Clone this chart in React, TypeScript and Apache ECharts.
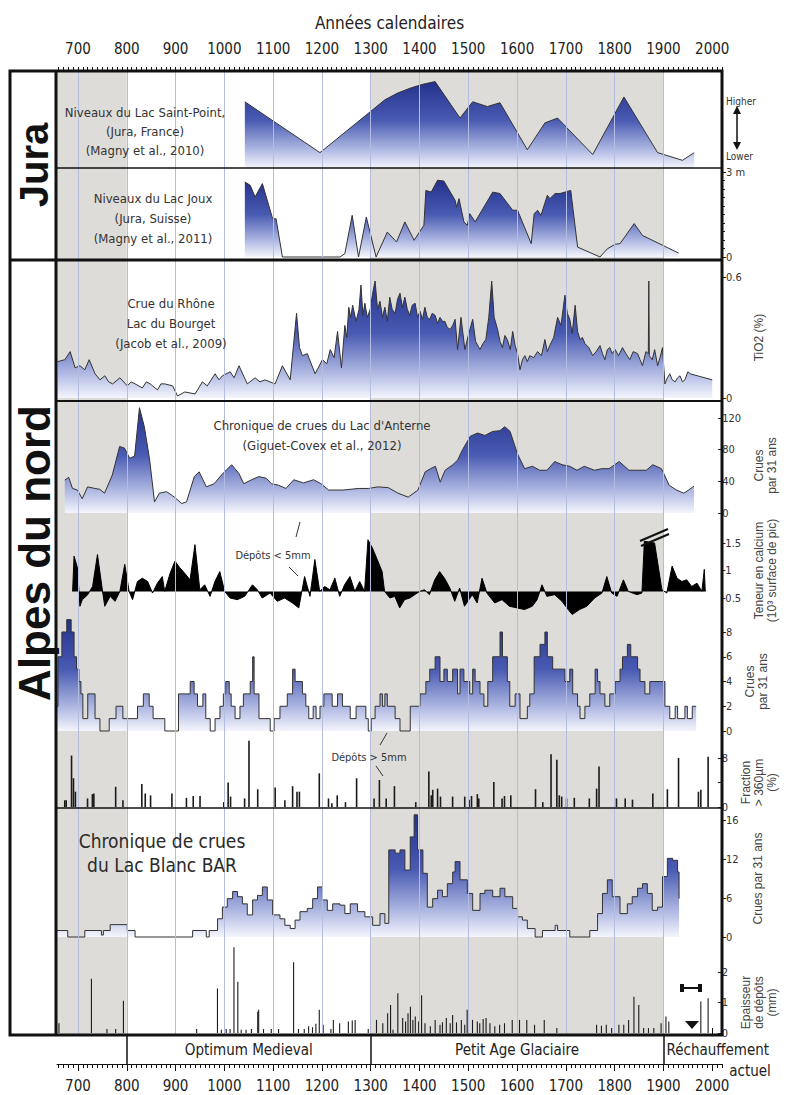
import React, { useEffect, useRef } from "react";
import * as echarts from "echarts";

// ---------- axes / periods ----------
const X_MIN = 657;
const X_MAX = 2020;
const centuryTicks = [700, 800, 900, 1000, 1100, 1200, 1300, 1400, 1500, 1600, 1700, 1800, 1900, 2000];
const centuryLines = [700, 800, 900, 1000, 1100, 1200, 1300, 1400, 1500, 1600, 1700, 1800, 1900];
const greyBands = [[657, 800], [1300, 1900]];
const periodNames = ["Optimum Medieval", "Petit Age Glaciaire", "Réchauffement"];
const periodStarts = [800, 1300, 1900];
const periodEnds = [1300, 1900, 2020];
const jouxTickLabels = ["0", "3 m"];
const rhoneTickLabels = ["0", "0.6"];
const calciumTickLabels = ["0.5", "1", "1.5"];
const fractionTickLabels = ["0", "", "8"];
const blancTickLabels = ["0", "6", "12", "16"];

// ---------- series (year, value) ----------
const saintPoint = [[1042, 6.9], [1196, 1.6], [1329, 7.1], [1355, 7.8], [1380, 8.3], [1405, 8.7], [1432, 9.0], [1483, 5.2], [1509, 6.9], [1539, 6.4], [1565, 6.8], [1621, 1.9], [1657, 4.7], [1683, 5.2], [1755, 1.4], [1819, 7.4], [1888, 1.6], [1939, 0.8], [1963, 1.6]];

const joux = [[1042, 2.65], [1053, 2.53], [1063, 2.12], [1078, 2.59], [1099, 1.35], [1106, 1.35], [1119, 0], [1237, 0], [1247, 0.12], [1262, 1.47], [1275, 0], [1291, 1.41], [1311, 0], [1334, 0.88], [1353, 0.53], [1370, 1.24], [1389, 0.59], [1409, 1.12], [1413, 2.35], [1424, 2.29], [1437, 2.71], [1450, 2.68], [1473, 2.0], [1476, 1.76], [1481, 2.06], [1491, 1.24], [1498, 1.12], [1503, 1.53], [1514, 1.24], [1550, 2.29], [1565, 2.24], [1591, 1.65], [1601, 1.65], [1629, 0.47], [1635, 1.53], [1642, 1.65], [1649, 1.47], [1662, 2.18], [1667, 2.06], [1678, 2.24], [1688, 2.24], [1710, 2.35], [1724, 0.35], [1770, 0], [1785, 0.29], [1801, 0.45], [1811, 0.47], [1840, 1.18], [1857, 0.76], [1931, 0.14]];

const rhoneTiO2 = [[658, 0.18], [673, 0.19], [684, 0.23], [694, 0.15], [704, 0.16], [714, 0.14], [723, 0.19], [735, 0.12], [745, 0.09], [755, 0.11], [763, 0.08], [771, 0.07], [786, 0.10], [801, 0.06], [809, 0.08], [817, 0.07], [832, 0.05], [840, 0.08], [848, 0.07], [863, 0.04], [870, 0.07], [878, 0.07], [894, 0.06], [904, 0.01], [919, 0.03], [940, 0.02], [955, 0.08], [965, 0.06], [981, 0.12], [989, 0.09], [996, 0.11], [1012, 0.13], [1020, 0.10], [1030, 0.16], [1047, 0.07], [1063, 0.10], [1073, 0.08], [1083, 0.09], [1104, 0.07], [1119, 0.16], [1135, 0.09], [1148, 0.42], [1154, 0.25], [1160, 0.21], [1170, 0.22], [1186, 0.12], [1201, 0.19], [1210, 0.17], [1217, 0.24], [1225, 0.20], [1232, 0.33], [1240, 0.15], [1247, 0.36], [1251, 0.30], [1255, 0.45], [1259, 0.40], [1263, 0.46], [1270, 0.38], [1276, 0.44], [1280, 0.56], [1284, 0.41], [1288, 0.47], [1293, 0.40], [1299, 0.44], [1304, 0.52], [1309, 0.58], [1314, 0.44], [1319, 0.48], [1324, 0.40], [1329, 0.45], [1334, 0.38], [1339, 0.50], [1344, 0.44], [1350, 0.42], [1355, 0.49], [1360, 0.52], [1365, 0.45], [1370, 0.50], [1375, 0.44], [1380, 0.41], [1385, 0.46], [1391, 0.47], [1396, 0.40], [1401, 0.43], [1406, 0.39], [1411, 0.45], [1416, 0.40], [1421, 0.39], [1426, 0.42], [1432, 0.41], [1437, 0.37], [1442, 0.40], [1447, 0.38], [1452, 0.38], [1457, 0.35], [1463, 0.34], [1468, 0.36], [1473, 0.39], [1478, 0.24], [1485, 0.40], [1493, 0.24], [1500, 0.31], [1509, 0.39], [1515, 0.28], [1524, 0.24], [1530, 0.27], [1536, 0.29], [1542, 0.40], [1548, 0.58], [1553, 0.40], [1560, 0.34], [1565, 0.28], [1570, 0.25], [1575, 0.31], [1580, 0.29], [1586, 0.24], [1591, 0.33], [1596, 0.26], [1601, 0.22], [1606, 0.14], [1611, 0.19], [1616, 0.21], [1621, 0.18], [1626, 0.21], [1634, 0.20], [1642, 0.23], [1650, 0.21], [1657, 0.29], [1662, 0.23], [1667, 0.26], [1675, 0.30], [1683, 0.40], [1690, 0.36], [1698, 0.51], [1703, 0.42], [1708, 0.39], [1713, 0.32], [1719, 0.46], [1724, 0.33], [1729, 0.29], [1734, 0.30], [1739, 0.27], [1747, 0.25], [1755, 0.21], [1762, 0.23], [1770, 0.26], [1775, 0.22], [1780, 0.19], [1785, 0.24], [1790, 0.25], [1795, 0.22], [1801, 0.24], [1808, 0.21], [1816, 0.25], [1823, 0.22], [1831, 0.19], [1838, 0.23], [1847, 0.22], [1852, 0.19], [1857, 0.16], [1864, 0.23], [1869, 0.22], [1870, 0.58], [1871, 0.21], [1874, 0.20], [1877, 0.19], [1882, 0.24], [1888, 0.16], [1893, 0.20], [1898, 0.25], [1903, 0.07], [1908, 0.10], [1913, 0.12], [1918, 0.09], [1924, 0.08], [1929, 0.10], [1934, 0.11], [1939, 0.08], [1944, 0.09], [1950, 0.13], [1955, 0.12], [1970, 0.11], [2000, 0.09]];

const anterne = [[673, 41.6], [681, 45], [689, 31], [699, 29], [709, 18], [720, 33], [735, 31], [745, 30], [755, 25], [771, 48], [786, 84], [796, 82], [807, 69], [817, 72], [827, 133], [837, 109], [848, 67], [858, 14], [868, 25], [883, 27], [899, 20], [914, 12], [924, 14], [940, 46], [950, 52], [965, 33], [981, 37], [996, 48], [1017, 61], [1032, 50], [1042, 37], [1058, 42], [1073, 46], [1088, 44], [1099, 37], [1114, 35], [1129, 31], [1145, 42], [1165, 38], [1186, 42], [1201, 37], [1217, 29], [1247, 29], [1278, 31], [1299, 31], [1319, 33], [1340, 32], [1360, 25], [1381, 20], [1401, 29], [1416, 52], [1427, 56], [1437, 59], [1447, 39], [1457, 54], [1473, 61], [1483, 67], [1493, 80], [1509, 97], [1524, 101], [1539, 98], [1555, 103], [1570, 104], [1580, 109], [1591, 103], [1606, 75], [1621, 56], [1637, 59], [1652, 54], [1667, 54], [1683, 65], [1698, 61], [1714, 59], [1729, 54], [1744, 59], [1765, 54], [1780, 56], [1795, 56], [1816, 65], [1836, 54], [1857, 54], [1872, 54], [1885, 61], [1903, 56], [1919, 35], [1934, 29], [1949, 25], [1959, 29], [1970, 34]];

const calcium = [[689, 0.62], [692, 1.26], [699, 1.05], [704, 0.35], [709, 0.47], [720, 0.56], [730, 0.71], [740, 1.29], [750, 0.65], [755, 0.35], [766, 0.53], [776, 0.44], [786, 0.62], [796, 1.11], [805, 0.62], [812, 0.47], [822, 0.80], [832, 0.86], [843, 0.80], [853, 0.59], [863, 0.77], [873, 0.89], [878, 0.62], [889, 0.95], [899, 1.17], [909, 1.05], [919, 0.95], [930, 0.83], [940, 1.47], [950, 0.65], [960, 0.74], [971, 0.53], [981, 0.80], [991, 0.98], [1001, 0.62], [1012, 0.50], [1027, 0.47], [1042, 0.53], [1058, 0.74], [1068, 0.65], [1078, 0.50], [1094, 0.59], [1109, 0.44], [1124, 0.50], [1140, 0.41], [1153, 0.32], [1165, 0.89], [1176, 0.53], [1186, 1.20], [1196, 0.62], [1206, 0.71], [1217, 0.65], [1227, 0.86], [1237, 0.53], [1247, 0.74], [1258, 0.89], [1268, 0.62], [1278, 0.80], [1288, 0.62], [1295, 1.56], [1304, 1.41], [1314, 1.20], [1324, 0.98], [1329, 0.62], [1340, 0.50], [1350, 0.53], [1360, 0.32], [1370, 0.47], [1381, 0.50], [1391, 0.56], [1401, 0.62], [1411, 0.65], [1421, 0.56], [1432, 0.83], [1442, 0.98], [1452, 0.86], [1463, 0.68], [1473, 0.44], [1483, 0.68], [1493, 0.35], [1509, 0.56], [1519, 0.41], [1529, 0.86], [1539, 0.59], [1555, 0.41], [1570, 0.47], [1585, 0.35], [1601, 0.32], [1616, 0.29], [1632, 0.35], [1642, 0.47], [1652, 0.74], [1662, 0.53], [1678, 0.56], [1693, 0.44], [1703, 0.32], [1714, 0.20], [1729, 0.29], [1744, 0.35], [1760, 0.50], [1775, 0.59], [1785, 0.89], [1795, 0.59], [1806, 0.53], [1819, 0.83], [1829, 0.62], [1847, 0.56], [1857, 0.59], [1862, 1.53], [1883, 1.50], [1898, 0.65], [1908, 0.59], [1919, 1.08], [1929, 0.86], [1939, 0.80], [1949, 0.83], [1959, 0.71], [1970, 0.77], [1980, 0.62], [1985, 1.02], [1987, 0.62]];
const calciumBaseline = 0.62;

const anterneEvents = [[657, 2], [659, 6], [667, 8], [677, 9], [686, 8], [692, 6], [697, 5], [702, 4], [706, 3], [710, 1], [720, 3], [735, 1], [745, 0], [764, 1], [778, 2], [792, 1], [822, 2], [834, 3], [846, 2], [854, 1], [878, 0], [906, 3], [930, 4], [938, 3], [945, 2], [956, 3], [962, 1], [971, 0], [981, 1], [991, 2], [998, 3], [1003, 4], [1010, 3], [1014, 2], [1022, 1], [1032, 2], [1039, 3], [1053, 4], [1058, 6], [1061, 3], [1071, 1], [1094, 0], [1102, 1], [1114, 2], [1129, 3], [1140, 5], [1145, 4], [1160, 3], [1167, 2], [1173, 1], [1182, 2], [1188, 1], [1196, 2], [1204, 3], [1221, 2], [1232, 3], [1242, 2], [1258, 1], [1270, 2], [1290, 1], [1295, 0], [1301, 1], [1309, 2], [1319, 3], [1324, 2], [1329, 3], [1334, 2], [1350, 1], [1360, 0], [1381, 2], [1401, 3], [1413, 4], [1421, 5], [1432, 6], [1442, 4], [1450, 5], [1457, 4], [1468, 5], [1478, 3], [1483, 5], [1491, 4], [1503, 3], [1509, 5], [1514, 4], [1524, 3], [1532, 2], [1540, 4], [1550, 6], [1565, 8], [1570, 6], [1580, 4], [1585, 2], [1596, 3], [1606, 1], [1621, 2], [1626, 3], [1635, 6], [1647, 7], [1657, 8], [1662, 6], [1673, 5], [1698, 4], [1708, 5], [1714, 3], [1724, 2], [1729, 1], [1739, 2], [1749, 3], [1760, 5], [1765, 4], [1770, 3], [1780, 2], [1790, 3], [1801, 4], [1811, 5], [1816, 6], [1826, 7], [1833, 6], [1847, 5], [1852, 4], [1862, 3], [1872, 4], [1903, 2], [1913, 1], [1924, 2], [1929, 1], [1944, 2], [1949, 1], [1959, 2], [1967, 2]];

const fraction = [[673, 1.1], [676, 1.1], [687, 8.4], [691, 4.7], [695, 2.5], [720, 1.4], [730, 2.1], [733, 2.2], [778, 3.3], [793, 1.1], [832, 3.75], [839, 2.2], [850, 1.9], [894, 2.2], [924, 1.5], [938, 1.8], [952, 1.8], [1001, 0.8], [1010, 4.0], [1015, 1.7], [1044, 1.4], [1053, 10.8], [1071, 2.9], [1107, 3.2], [1127, 1.1], [1143, 3.4], [1152, 2.5], [1157, 2.5], [1198, 5.5], [1217, 1.4], [1224, 0.6], [1235, 1.9], [1252, 0.8], [1275, 4.7], [1311, 1.4], [1322, 4.4], [1336, 1.4], [1353, 3.4], [1397, 0.8], [1424, 5.8], [1429, 1.9], [1432, 2.8], [1442, 3.0], [1448, 1.7], [1473, 1.7], [1498, 1.7], [1507, 1.2], [1512, 1.8], [1524, 2.1], [1527, 1.4], [1558, 4.1], [1575, 1.4], [1580, 1.8], [1593, 1.9], [1644, 2.9], [1659, 0.8], [1676, 8.6], [1688, 7.7], [1693, 1.9], [1698, 1.7], [1708, 1.4], [1724, 1.5], [1755, 1.4], [1770, 3.0], [1775, 6.6], [1811, 1.4], [1829, 1.4], [1844, 1.2], [1886, 2.2], [1916, 2.9], [1939, 8.0], [1980, 2.5], [1985, 2.8], [2000, 8.2]];

const lacBlanc = [[657, 1.0], [679, 0], [714, 1.0], [748, 0.3], [752, 1.0], [766, 1.9], [801, 1.0], [817, 0], [935, 1.0], [963, 0], [969, 1.0], [986, 2.8], [996, 4.6], [1006, 5.9], [1017, 7.0], [1027, 6.2], [1037, 5.1], [1047, 3.4], [1058, 5.7], [1068, 6.4], [1078, 7.7], [1088, 5.7], [1099, 3.4], [1114, 2.8], [1124, 1.8], [1135, 1.3], [1145, 2.6], [1155, 3.9], [1170, 4.4], [1181, 5.9], [1191, 7.7], [1201, 5.7], [1211, 4.1], [1222, 5.1], [1237, 4.9], [1247, 3.6], [1258, 5.1], [1273, 3.9], [1288, 3.1], [1304, 1.8], [1319, 3.6], [1329, 2.1], [1337, 13.4], [1350, 12.9], [1360, 13.4], [1370, 10.3], [1381, 15.4], [1389, 18.8], [1396, 13.4], [1407, 9.8], [1416, 4.6], [1427, 5.9], [1437, 7.2], [1447, 6.2], [1457, 8.2], [1468, 10.0], [1473, 11.6], [1483, 8.8], [1498, 6.7], [1509, 4.1], [1524, 6.7], [1534, 7.2], [1550, 6.2], [1565, 7.5], [1575, 6.2], [1591, 4.4], [1601, 3.1], [1611, 2.6], [1621, 1.3], [1637, 0], [1652, 1.0], [1678, 1.8], [1683, 1.0], [1708, 0], [1749, 1.0], [1765, 3.6], [1775, 6.7], [1785, 8.8], [1795, 6.2], [1811, 3.6], [1826, 5.1], [1836, 6.2], [1847, 7.5], [1857, 8.2], [1867, 6.7], [1877, 4.1], [1888, 4.6], [1898, 9.3], [1908, 12.1], [1919, 11.8], [1929, 10.0], [1932, 5.9]];

const depositThickness = [[661, 0.32], [728, 1.78], [760, 0.13], [778, 0.13], [794, 1.06], [945, 0.13], [988, 1.46], [996, 0.11], [1006, 0.13], [1014, 0.13], [1022, 2.81], [1030, 1.68], [1037, 0.11], [1047, 0.11], [1058, 0.13], [1071, 0.70], [1073, 0.76], [1083, 0.13], [1099, 0.13], [1114, 0.13], [1145, 2.32], [1155, 0.13], [1167, 0.13], [1176, 0.22], [1184, 0.19], [1191, 0.30], [1198, 0.76], [1206, 0.27], [1222, 0.13], [1227, 0.43], [1240, 0.32], [1258, 0.38], [1266, 0.41], [1272, 0.43], [1299, 0.13], [1316, 0.43], [1329, 0.32], [1339, 0.65], [1345, 0.92], [1350, 0.11], [1360, 1.30], [1370, 0.49], [1376, 0.38], [1381, 0.65], [1386, 0.86], [1391, 0.43], [1396, 0.54], [1403, 0.38], [1409, 1.24], [1416, 0.32], [1427, 0.22], [1437, 0.43], [1447, 0.27], [1452, 0.35], [1460, 0.49], [1468, 0.32], [1473, 0.59], [1481, 0.35], [1491, 0.43], [1498, 0.27], [1503, 0.76], [1514, 0.43], [1524, 0.38], [1529, 0.32], [1536, 0.46], [1542, 0.49], [1550, 0.32], [1560, 0.22], [1570, 0.27], [1580, 0.32], [1596, 0.43], [1611, 0.43], [1626, 0.43], [1642, 0.27], [1662, 0.43], [1688, 0.16], [1770, 0.27], [1780, 0.24], [1790, 0.27], [1801, 0.16], [1816, 0.27], [1826, 0.27], [1836, 0.43], [1847, 1.19], [1857, 0.92], [1867, 0.16], [1877, 0.16], [1888, 0.16], [1903, 0.32], [1908, 0.43], [1913, 0.54], [1919, 0.38], [1985, 1.03], [2000, 1.14]];

// ---------- styling ----------
const NARROW = "'DejaVu Sans Condensed','Liberation Sans',sans-serif";
const REG = "'Liberation Sans','DejaVu Sans',sans-serif";
const INK = "#222";

const layout = [
  { top: 71, height: 964 }, // 0 background + top axis
  { top: 72, height: 96 }, // 1 Saint-Point
  { top: 172, height: 85 }, // 2 Joux
  { top: 277, height: 121 }, // 3 Rhone
  { top: 418, height: 95 }, // 4 Anterne
  { top: 543, height: 55 }, // 5 calcium
  { top: 632, height: 99 }, // 6 Anterne events
  { top: 758, height: 49 }, // 7 fraction
  { top: 820, height: 117 }, // 8 Lac Blanc
  { top: 972, height: 61 }, // 9 deposit thickness
  { top: 1035, height: 29 }, // 10 periods + bottom axis
];

function blueFill() {
  return new echarts.graphic.LinearGradient(0, 0, 0, 1, [
    { offset: 0, color: "#24318c" },
    { offset: 0.45, color: "#4a5bb3" },
    { offset: 0.8, color: "#b3bce4" },
    { offset: 1, color: "#f4f5fc" },
  ]);
}

function rightAxis(gridIndex: number, min: number, max: number, interval: number, labels: string[] | null, name: string, nameGap = 20, extra: any = {}) {
  return {
    gridIndex, type: "value", position: "right", min, max, interval,
    axisLine: { show: false },
    axisTick: { show: true, length: 4, lineStyle: { color: INK, width: 1 } },
    splitLine: { show: false },
    axisLabel: {
      fontSize: 11, color: "#333", margin: 4, fontFamily: NARROW,
      formatter: labels ? (v: number, i: number) => (labels[i] ?? "") : (v: number) => String(v),
    },
    name, nameLocation: "middle", nameRotate: 90, nameGap,
    nameTextStyle: { fontSize: 12, color: "#444", fontFamily: REG, lineHeight: 13 },
    ...extra,
  };
}

function areaLine(idx: number, data: number[][], extra: any = {}) {
  return {
    type: "line", xAxisIndex: idx, yAxisIndex: idx, data, symbol: "none", clip: false,
    lineStyle: { color: "#333", width: 1 },
    areaStyle: { color: blueFill(), opacity: 1 },
    ...extra,
  };
}

function buildOption(): any {
  const decadeTicks: number[] = [];
  for (let y = 660; y <= 2020; y += 10) decadeTicks.push(y);

  const xAxes: any[] = layout.map((_, i) => ({ gridIndex: i, type: "value", min: X_MIN, max: X_MAX, show: false }));
  const mainAxisStyle = {
    show: true, type: "value", min: X_MIN, max: X_MAX,
    axisLine: { show: true, lineStyle: { color: "#111", width: 1 } },
    axisTick: { show: true, customValues: centuryTicks, length: 7, lineStyle: { color: "#111" } },
    axisLabel: { customValues: centuryTicks, fontSize: 15, color: INK, fontFamily: NARROW, formatter: (v: number) => String(v) },
    splitLine: { show: false },
  };
  xAxes[0] = {
    ...mainAxisStyle, gridIndex: 0, position: "top",
    axisLabel: { ...mainAxisStyle.axisLabel, margin: 15 },
    name: "Années calendaires", nameLocation: "middle", nameGap: 40,
    nameTextStyle: { fontSize: 17, color: INK, fontFamily: NARROW },
  };
  xAxes[10] = { ...mainAxisStyle, gridIndex: 10, position: "bottom", axisLabel: { ...mainAxisStyle.axisLabel, margin: 14 } };
  const minorAxis = (gridIndex: number, position: string) => ({
    gridIndex, position, type: "value", min: X_MIN, max: X_MAX,
    axisLine: { show: false }, axisLabel: { show: false }, splitLine: { show: false },
    axisTick: { show: true, customValues: decadeTicks, length: 4, lineStyle: { color: "#111" } },
  });
  xAxes.push(minorAxis(0, "top"), minorAxis(10, "bottom"));

  const yAxes: any[] = [
    { gridIndex: 0, min: 0, max: 1, show: false },
    { gridIndex: 1, min: 0, max: 10, show: false },
    rightAxis(2, 0, 3, 3, jouxTickLabels, "", 20, { minorTick: { show: true, splitNumber: 10, length: 3, lineStyle: { color: INK } } }),
    rightAxis(3, 0, 0.6, 0.6, rhoneTickLabels, "TiO2 (%)", 22),
    rightAxis(4, 0, 120, 40, null, "Crues\npar 31 ans", 22),
    rightAxis(5, 0.5, 1.5, 0.5, calciumTickLabels, "Teneur en calcium\n(10³ surface de pic)", 22),
    rightAxis(6, 0, 8, 2, null, "Crues\npar 31 ans", 20),
    rightAxis(7, 0, 8, 4, fractionTickLabels, "Fraction\n> 360µm\n(%)", 20),
    rightAxis(8, 0, 18, 6, blancTickLabels, "Crues par 31 ans", 29),
    rightAxis(9, 0, 2, 1, null, "Epaisseur\nde dépôts\n(mm)", 20),
    { gridIndex: 10, min: 0, max: 1, show: false },
  ];

  const series: any[] = [
    {
      type: "line", xAxisIndex: 0, yAxisIndex: 0, data: [[X_MIN, -1]], symbol: "none", silent: true, z: 0,
      lineStyle: { opacity: 0 },
      markArea: { silent: true, itemStyle: { color: "#dedcd9" }, data: greyBands.map(([a, b]) => [{ xAxis: a }, { xAxis: b }]) },
      markLine: {
        silent: true, symbol: ["none", "none"], label: { show: false },
        lineStyle: { color: "#b3bde0", width: 1, type: "solid" },
        data: centuryLines.map((x) => ({ xAxis: x })),
      },
    },
    {
      type: "line", xAxisIndex: 10, yAxisIndex: 10, data: [[X_MIN, -1]], symbol: "none", silent: true,
      lineStyle: { opacity: 0 },
      markArea: {
        silent: true, itemStyle: { color: "rgba(0,0,0,0)" },
        label: { show: true, position: "inside", fontSize: 15, color: INK, fontFamily: NARROW },
        data: periodNames.map((n, i) => [
          { xAxis: periodStarts[i], name: n, label: i === 2 ? { position: "insideLeft", distance: 3 } : undefined },
          { xAxis: periodEnds[i] },
        ]),
      },
      markLine: {
        silent: true, symbol: ["none", "none"], label: { show: false },
        lineStyle: { color: "#111", width: 1.5, type: "solid" },
        data: periodStarts.map((x) => ({ xAxis: x })),
      },
    },
    areaLine(1, saintPoint),
    areaLine(2, joux),
    areaLine(3, rhoneTiO2),
    areaLine(4, anterne),
    {
      type: "line", xAxisIndex: 5, yAxisIndex: 5, data: calcium, symbol: "none", clip: false,
      lineStyle: { color: "#000", width: 1 },
      areaStyle: { color: "#000", opacity: 1, origin: calciumBaseline },
    },
    areaLine(6, anterneEvents, { step: "end" }),
    {
      type: "bar", xAxisIndex: 7, yAxisIndex: 7, data: fraction, barWidth: 1.6, clip: false,
      itemStyle: { color: "#1a1a1a" },
    },
    areaLine(8, lacBlanc, { step: "end" }),
    {
      type: "bar", xAxisIndex: 9, yAxisIndex: 9, data: depositThickness, barWidth: 1.1, clip: false,
      itemStyle: { color: "#1a1a1a" },
    },
  ];

  const line = (x1: number, y1: number, x2: number, y2: number, w = 1, color = "#111") => ({
    type: "line", shape: { x1, y1, x2, y2 }, style: { stroke: color, lineWidth: w }, z: 100, silent: true,
  });
  const text = (x: number, y: number, t: string, size: number, opts: any = {}) => ({
    type: "text", x, y, z: 100, silent: true, rotation: opts.rotation || 0,
    style: {
      text: t, fontSize: size, fontFamily: opts.family || NARROW, fontWeight: opts.weight || "normal",
      fill: opts.fill || "#333", align: opts.align || "center", verticalAlign: "middle",
      lineHeight: opts.lineHeight || size + 4,
    },
  });

  const graphic: any[] = [
    { type: "rect", shape: { x: 10, y: 71, width: 712, height: 964 }, style: { fill: "none", stroke: "#111", lineWidth: 3 }, z: 100, silent: true },
    line(56, 71, 56, 1035, 3),
    line(10, 260, 722, 260, 3),
    line(56, 168, 722, 168, 1.5),
    line(56, 401, 722, 401, 2),
    line(56, 808, 722, 808, 1.5),
    text(34, 165, "Jura", 40, { rotation: Math.PI / 2, weight: "bold", family: REG, fill: "#111" }),
    text(34, 553, "Alpes du nord", 44, { rotation: Math.PI / 2, weight: "bold", family: REG, fill: "#111" }),
    text(145, 131, "Niveaux du Lac Saint-Point,\n(Jura, France)\n(Magny et al., 2010)", 13, { lineHeight: 19 }),
    text(153, 218, "Niveaux du Lac Joux\n(Jura, Suisse)\n(Magny et al., 2011)", 13, { lineHeight: 20 }),
    text(171, 323, "Crue du Rhône\nLac du Bourget\n(Jacob et al., 2009)", 13, { lineHeight: 20 }),
    text(322, 435, "Chronique de crues du Lac d'Anterne\n(Giguet-Covex et al., 2012)", 13, { lineHeight: 20 }),
    text(162, 853, "Chronique de crues\ndu Lac Blanc BAR", 19, { lineHeight: 24, fill: "#2a2a2a" }),
    text(273, 555, "Dépôts < 5mm", 11),
    line(300, 522, 296, 537, 1, "#333"),
    line(289, 567, 298, 576, 1, "#333"),
    text(369, 757, "Dépôts > 5mm", 11),
    line(387, 733, 380, 745, 1, "#333"),
    line(376, 766, 383, 776, 1, "#333"),
    text(726, 101, "Higher", 10, { align: "left" }),
    text(726, 156, "Lower", 10, { align: "left" }),
    line(737, 112, 737, 144, 1.5),
    { type: "polygon", shape: { points: [[737, 106], [733, 114], [741, 114]] }, style: { fill: "#111" }, z: 100, silent: true },
    { type: "polygon", shape: { points: [[737, 150], [733, 142], [741, 142]] }, style: { fill: "#111" }, z: 100, silent: true },
    line(640, 541, 668, 529, 2),
    line(641, 546, 669, 534, 2),
    line(682, 988, 700, 988, 2),
    { type: "rect", shape: { x: 680, y: 984, width: 4, height: 8 }, style: { fill: "#111" }, z: 100, silent: true },
    { type: "rect", shape: { x: 698, y: 984, width: 4, height: 8 }, style: { fill: "#111" }, z: 100, silent: true },
    { type: "polygon", shape: { points: [[685, 1021], [699, 1021], [692, 1029]] }, style: { fill: "#111" }, z: 100, silent: true },
    text(750, 1071, "actuel", 15, { fill: INK }),
  ];

  return {
    animation: false,
    backgroundColor: "#fff",
    textStyle: { fontFamily: NARROW },
    grid: layout.map((l) => ({ left: 57, width: 665, top: l.top, height: l.height })),
    xAxis: xAxes,
    yAxis: yAxes,
    series,
    graphic,
  };
}

export default function App() {
  const ref = useRef<HTMLDivElement>(null);
  useEffect(() => {
    const chart = echarts.init(ref.current as HTMLDivElement, undefined, { renderer: "svg" });
    chart.setOption(buildOption());
    return () => chart.dispose();
  }, []);
  return <div ref={ref} style={{ position: "fixed", left: 0, top: 0, width: 786, height: 1095, background: "#fff" }} />;
}
